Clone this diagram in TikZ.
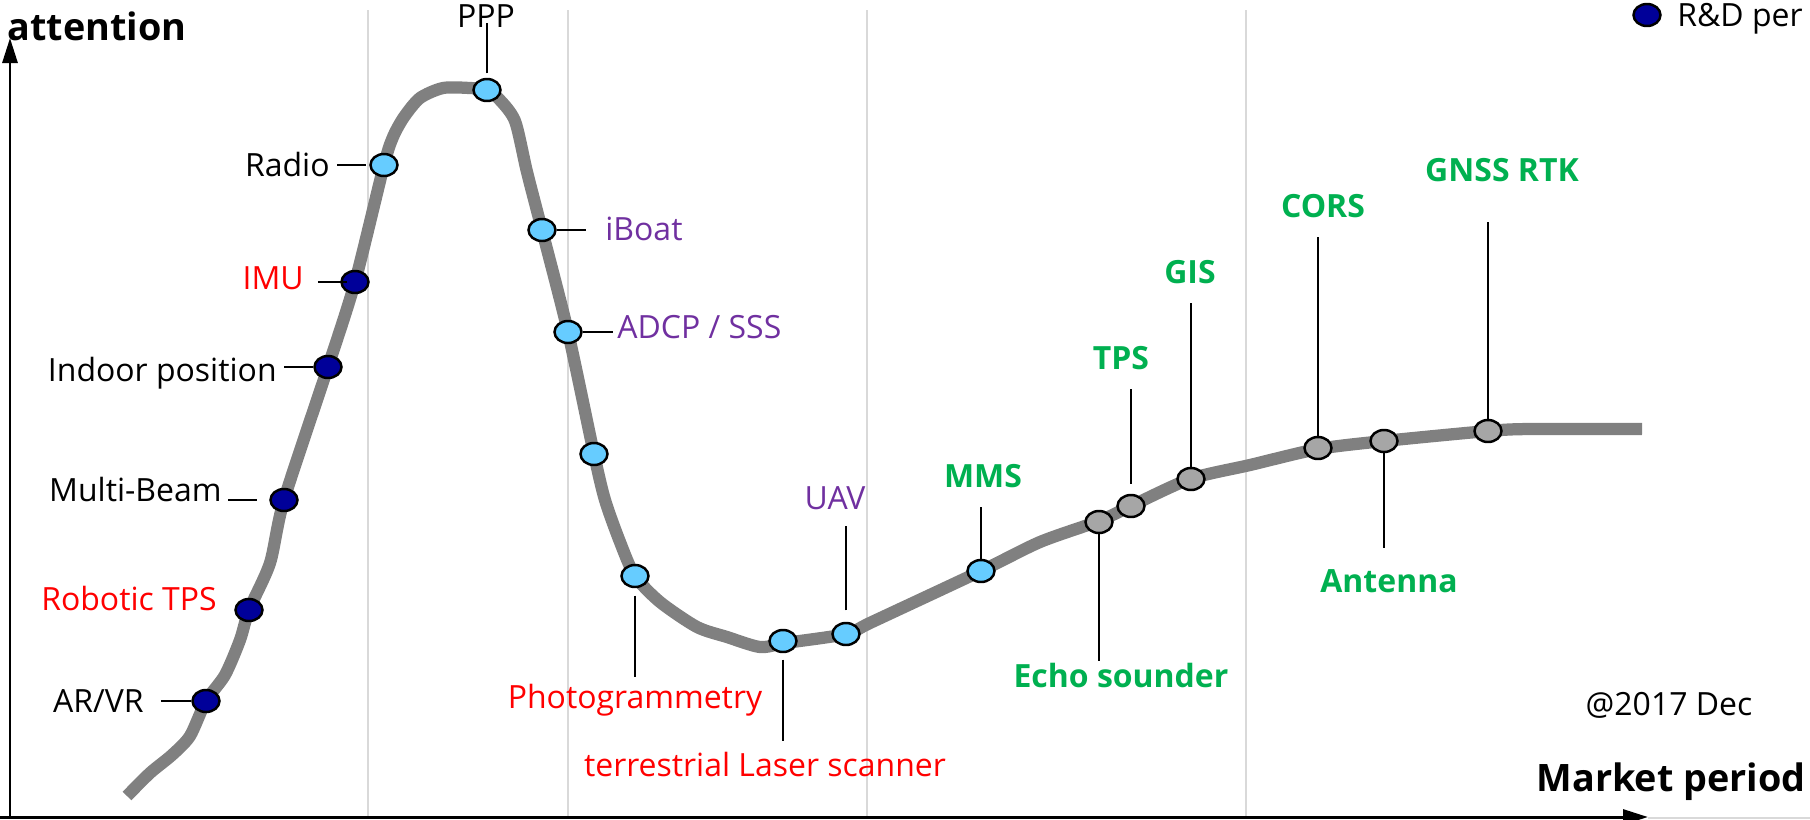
\documentclass[tikz,border=0pt]{standalone}
\usepackage{fontspec}
\setmainfont{Open Sans}
\usetikzlibrary{arrows.meta,shapes.geometric}

\definecolor{rdblue}{RGB}{0,0,153}
\definecolor{hypeblue}{RGB}{102,204,255}
\definecolor{slopegray}{RGB}{166,166,166}
\definecolor{curvegray}{RGB}{128,128,128}
\definecolor{gridgray}{RGB}{217,217,217}
\definecolor{txtred}{RGB}{255,0,0}
\definecolor{txtpurple}{RGB}{112,48,160}
\definecolor{txtgreen}{RGB}{0,176,80}

\begin{document}
\begin{tikzpicture}[x=0.02cm, y=-0.02cm,
    tech/.style ={ellipse, draw, line width=1.4pt, minimum width=0.54cm, minimum height=0.44cm, inner sep=0pt},
    rd/.style ={tech, fill=rdblue},
    hype/.style ={tech, fill=hypeblue},
    slope/.style ={tech, fill=slopegray},
    blackname/.style ={font=\fontsize{18.2}{20}\selectfont, inner sep=0pt, text height=0.46cm, text depth=0pt},
    redname/.style ={blackname, text=txtred},
    purplename/.style ={blackname, text=txtpurple},
    greenname/.style ={blackname, text=txtgreen, font=\fontsize{18.2}{20}\selectfont\bfseries},
    axistitle/.style ={font=\fontsize{21.5}{24}\selectfont\bfseries, inner sep=0pt, text height=0.52cm, text depth=0pt},
    leader/.style ={line width=1.2pt},
    axisline/.style ={line width=1.7pt, -{Triangle[length=0.5cm, width=0.3cm]}},
    gridline/.style ={gridgray, line width=1pt},
    hypecurve/.style ={curvegray, line width=0.245cm, line join=round}]
   \useasboundingbox (0,0) rectangle (1810,819);
   \foreach \gx in {368,568,867,1246}
     \draw[gridline] (\gx,10) -- (\gx,817);
   \draw[gridline] (1648,818) -- (1810,818);
   \coordinate (ybase) at (10,819);
   \coordinate (ytip) at (10,38);
   \coordinate (xbase) at (0,817);
   \coordinate (xtip) at (1648,817);
   \draw[axisline] (ybase) to (ytip);
   \draw[axisline] (xbase) to (xtip);
   \node[axistitle, anchor=east] (yT) at (187,27) {attention};
   \node[axistitle, anchor=east] (xT) at (1806,778) {Market period};
   \draw[hypecurve] plot[smooth, tension=0.45] coordinates {(127,796) (150,773) (172,755) (190,736) (206,701) (225,675) (240,640) (249,610) (270,563) (284,500) (328,367) (355,282) (384,165) (393,137) (404,117) (420,98) (443,88) (470,88) (487,90) (499,99) (515,121) (527,172) (542,230) (568,332) (594,454) (605,500) (620,542) (635,576) (660,602) (697,627) (727,637) (760,647) (785,643) (846,634) (872,622) (981,571) (1040,542) (1099,521) (1131,506) (1190,479) (1250,465) (1318,449) (1384,441) (1488,431) (1530,429) (1642,429)};
   \node[rd] (arvr) at (206,701) {};
   \node[rd] (robotic) at (249,610) {};
   \node[rd] (multibeam) at (284,500) {};
   \node[rd] (indoor) at (328,367) {};
   \node[rd] (imu) at (355,282) {};
   \node[hype] (radio) at (384,165) {};
   \node[hype] (ppp) at (487,90) {};
   \node[hype] (iboat) at (542,230) {};
   \node[hype] (adcp) at (568,332) {};
   \node[hype] (drop) at (594,454) {};
   \node[hype] (photo) at (635,576) {};
   \node[hype] (tls) at (783,641) {};
   \node[hype] (uav) at (846,634) {};
   \node[hype] (mms) at (981,571) {};
   \node[slope] (echo) at (1099,522) {};
   \node[slope] (tps) at (1131,506) {};
   \node[slope] (gis) at (1191,479) {};
   \node[slope] (cors) at (1318,448) {};
   \node[slope] (antenna) at (1384,441) {};
   \node[slope] (gnss) at (1488,431) {};
   \node[blackname, anchor=east] (arvrL) at (144,701) {AR/VR};
   \node[redname, anchor=east] (roboticL) at (217,599) {Robotic TPS};
   \node[blackname, anchor=east] (multibeamL) at (222,490) {Multi-Beam};
   \node[blackname, anchor=east] (indoorL) at (277,370) {Indoor position};
   \node[redname, anchor=east] (imuL) at (304,278) {IMU};
   \node[blackname, anchor=east] (radioL) at (330,165) {Radio};
   \node[blackname] (pppL) at (486,16) {PPP};
   \node[purplename, anchor=west] (iboatL) at (605,229) {iBoat};
   \node[purplename, anchor=west] (adcpL) at (617,327) {ADCP / SSS};
   \node[redname] (photoL) at (635,697) {Photogrammetry};
   \node[redname] (tlsL) at (765,765) {terrestrial Laser scanner};
   \node[purplename] (uavL) at (835,498) {UAV};
   \node[greenname] (mmsL) at (983,476) {MMS};
   \node[greenname] (echoL) at (1121,676) {Echo sounder};
   \node[greenname] (tpsL) at (1121,358) {TPS};
   \node[greenname] (gisL) at (1190,272) {GIS};
   \node[greenname] (corsL) at (1323,206) {CORS};
   \node[greenname] (antennaL) at (1389,581) {Antenna};
   \node[greenname] (gnssL) at (1502,170) {GNSS RTK};
   \draw[leader, shorten <=0.34cm] (arvr -| arvrL.east) to (arvr);
   \draw[leader, shorten <=0.12cm, shorten >=0.24cm] (multibeam -| multibeamL.east) to (multibeam);
   \draw[leader, shorten <=0.14cm] (indoor -| indoorL.east) to (indoor);
   \draw[leader, shorten <=0.28cm, shorten >=-0.14cm] (imu -| imuL.east) to (imu);
   \draw[leader, shorten <=0.14cm, shorten >=0.06cm] (radio -| radioL.east) to (radio);
   \draw[leader, shorten <=0.09cm, shorten >=-0.1cm] (ppp) to (ppp |- pppL.south);
   \draw[leader, shorten >=0.38cm] (iboat) to (iboat -| iboatL.west);
   \draw[leader, shorten >=0.08cm] (adcp) to (adcp -| adcpL.west);
   \draw[leader, shorten <=0.15cm, shorten >=0.17cm] (photo) to (photo |- photoL.north);
   \draw[leader, shorten <=0.13cm, shorten >=0.25cm] (tls) to (tls |- tlsL.north);
   \draw[leader, shorten <=0.23cm, shorten >=0.33cm] (uav) to (uav |- uavL.south);
   \draw[leader, shorten >=0.39cm] (mms) to (mms |- mmsL.south);
   \draw[leader, shorten >=0.07cm] (echo) to (echo |- echoL.north);
   \draw[leader, shorten <=0.2cm, shorten >=0.39cm] (tps) to (tps |- tpsL.south);
   \draw[leader, shorten >=0.38cm] (gis) to (gis |- gisL.south);
   \draw[leader, shorten >=0.39cm] (cors) to (cors |- corsL.south);
   \draw[leader, shorten >=0.43cm] (antenna) to (antenna |- antennaL.north);
   \draw[leader, shorten >=0.8cm] (gnss) to (gnss |- gnssL.south);
   \node[blackname] (stamp) at (1669,704) {@2017 Dec};
   \node[rd] (rdKey) at (1647,15) {};
   \node[blackname, anchor=west] (rdKeyL) at (1677,15) {R\&D per};
 \end{tikzpicture}
\end{document}
